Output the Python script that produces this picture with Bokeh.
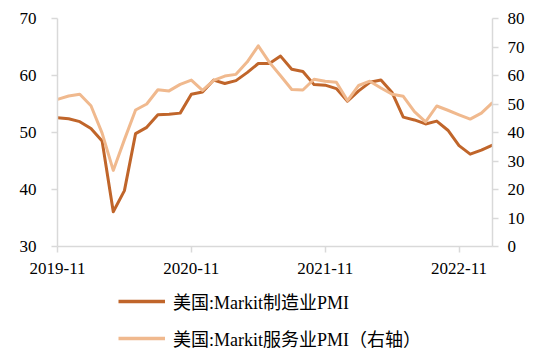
from bokeh.plotting import figure
from bokeh.models import Range1d, LinearAxis, FixedTicker, Legend, LegendItem
from bokeh.layouts import column
from bokeh.embed import file_html
from bokeh.resources import INLINE

months = ["2019-11", "2019-12", "2020-01", "2020-02", "2020-03", "2020-04", "2020-05", "2020-06",
          "2020-07", "2020-08", "2020-09", "2020-10", "2020-11", "2020-12", "2021-01", "2021-02",
          "2021-03", "2021-04", "2021-05", "2021-06", "2021-07", "2021-08", "2021-09", "2021-10",
          "2021-11", "2021-12", "2022-01", "2022-02", "2022-03", "2022-04", "2022-05", "2022-06",
          "2022-07", "2022-08", "2022-09", "2022-10", "2022-11", "2022-12", "2023-01", "2023-02"]
manufacturing = [52.6, 52.4, 51.9, 50.7, 48.5, 36.1, 39.8, 49.8, 50.9, 53.1, 53.2, 53.4,
                 56.7, 57.1, 59.2, 58.6, 59.1, 60.5, 62.1, 62.1, 63.4, 61.1, 60.7, 58.4,
                 58.3, 57.7, 55.5, 57.3, 58.8, 59.2, 57.0, 52.7, 52.2, 51.5, 52.0, 50.4,
                 47.7, 46.2, 46.9, 47.8]
services = [51.6, 52.8, 53.4, 49.4, 39.8, 26.7, 37.5, 47.9, 50.0, 55.0, 54.6, 56.9,
            58.4, 54.8, 58.3, 59.8, 60.4, 64.7, 70.4, 64.6, 59.9, 55.1, 54.9, 58.7,
            58.0, 57.6, 51.2, 56.5, 58.0, 55.6, 53.4, 52.7, 47.3, 43.7, 49.3, 47.8,
            46.2, 44.7, 46.8, 50.5]
tick_labels = ["2019-11", "2020-11", "2021-11", "2022-11"]
left_ticks = [30, 40, 50, 60, 70]
right_ticks = [0, 10, 20, 30, 40, 50, 60, 70, 80]
label_mfg = "美国:Markit制造业PMI"
label_svc = "美国:Markit服务业PMI（右轴）"

x = list(range(len(months)))
tick_pos = [months.index(t) for t in tick_labels]

FONT = "Liberation Serif, Noto Sans CJK SC"
AXIS_COLOR = "#D9D9D9"
C_MFG = "#C0652A"
C_SVC = "#F0B98E"

p = figure(width=534, height=282, output_backend="svg", toolbar_location=None,
           x_range=Range1d(0, len(months) - 1), y_range=Range1d(30, 70),
           y_axis_location=None, x_axis_location=None,
           min_border_left=57, min_border_right=42, min_border_top=18, min_border_bottom=36)
p.extra_y_ranges = {"right": Range1d(0, 80)}
p.grid.visible = False
p.outline_line_color = None
p.background_fill_color = "white"
p.border_fill_color = "white"

def style(ax, standoff):
    ax.axis_line_color = AXIS_COLOR
    ax.axis_line_width = 1.5
    ax.major_tick_line_color = AXIS_COLOR
    ax.major_tick_line_width = 1.5
    ax.major_tick_in = 0
    ax.major_tick_out = 6
    ax.minor_tick_line_color = None
    ax.major_label_text_font = FONT
    ax.major_label_text_font_size = "17px"
    ax.major_label_text_color = "#000000"
    ax.major_label_standoff = standoff

xa = LinearAxis(ticker=FixedTicker(ticks=tick_pos),
                major_label_overrides={pos: lab for pos, lab in zip(tick_pos, tick_labels)})
style(xa, 10)
p.add_layout(xa, "below")

ya = LinearAxis(ticker=FixedTicker(ticks=left_ticks))
style(ya, 15)
p.add_layout(ya, "left")

ya2 = LinearAxis(y_range_name="right", ticker=FixedTicker(ticks=right_ticks))
style(ya2, 9)
p.add_layout(ya2, "right")

r1 = p.line(x, manufacturing, line_color=C_MFG, line_width=3, line_join="round")
r2 = p.line(x, services, line_color=C_SVC, line_width=3, line_join="round", y_range_name="right")

# legend panel below the chart (legend-only renderers hold no visible points)
nan = float("nan")
p2 = figure(width=534, height=70, output_backend="svg", toolbar_location=None,
            x_range=Range1d(0, 1), y_range=Range1d(0, 1),
            x_axis_location=None, y_axis_location=None,
            min_border_left=0, min_border_right=0, min_border_top=0, min_border_bottom=0)
p2.grid.visible = False
p2.outline_line_color = None
l1 = p2.line([nan], [nan], line_color=C_MFG, line_width=3.5)
l2 = p2.line([nan], [nan], line_color=C_SVC, line_width=3.5)

legend = Legend(items=[LegendItem(label=label_mfg, renderers=[l1]),
                       LegendItem(label=label_svc, renderers=[l2])],
                orientation="vertical", location=(61, 1),
                label_text_font=FONT, label_text_font_size="18px", label_text_color="#000000",
                glyph_width=47, glyph_height=20, label_height=20, label_standoff=8,
                spacing=11, padding=0, margin=0, border_line_color=None,
                background_fill_alpha=0)
p2.add_layout(legend, "center")

layout = column(p, p2, spacing=0)
open("out.html", "w").write(file_html(layout, INLINE))
